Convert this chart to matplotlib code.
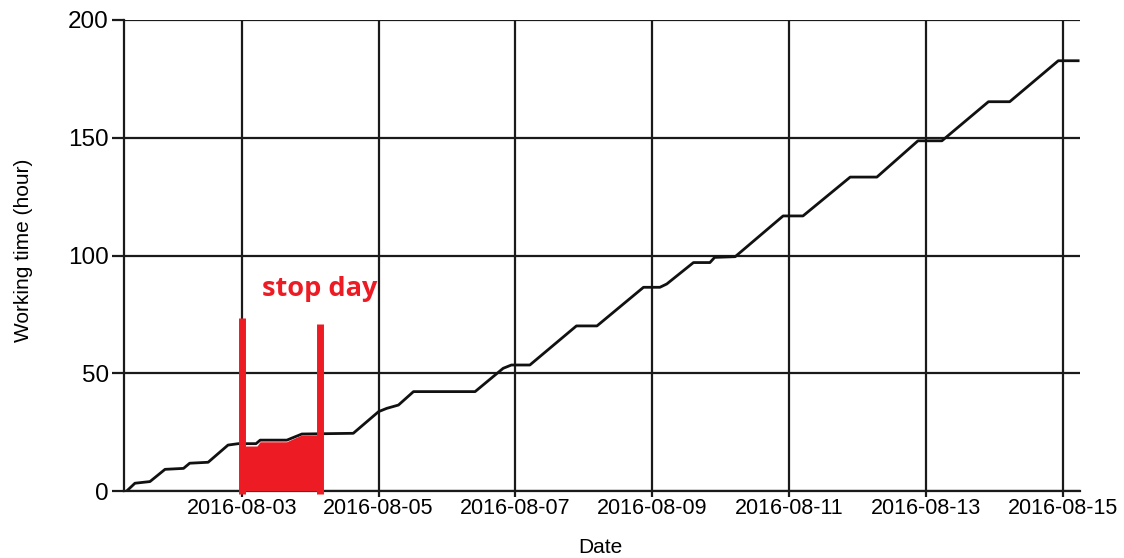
import numpy as np
import pandas as pd
import matplotlib
matplotlib.use("Agg")
import matplotlib.pyplot as plt
import matplotlib.dates as mdates

# cumulative working time
times = ["2016-08-01 07:41", "2016-08-01 10:34", "2016-08-01 15:50", "2016-08-01 21:07",
         "2016-08-02 03:36", "2016-08-02 05:46", "2016-08-02 12:14", "2016-08-02 19:12",
         "2016-08-02 22:48", "2016-08-03 05:02", "2016-08-03 06:29", "2016-08-03 15:50",
         "2016-08-03 21:07", "2016-08-04 15:07", "2016-08-05 00:00", "2016-08-05 02:53",
         "2016-08-05 06:58", "2016-08-05 12:14", "2016-08-06 09:50", "2016-08-06 19:41",
         "2016-08-06 22:34", "2016-08-07 05:02", "2016-08-07 21:22", "2016-08-08 04:34",
         "2016-08-08 20:53", "2016-08-09 02:38", "2016-08-09 05:02", "2016-08-09 14:24",
         "2016-08-09 20:10", "2016-08-09 21:50", "2016-08-10 05:02", "2016-08-10 21:50",
         "2016-08-11 04:48", "2016-08-11 21:22", "2016-08-12 06:43", "2016-08-12 21:07",
         "2016-08-13 05:31", "2016-08-13 21:50", "2016-08-14 05:17", "2016-08-14 22:19",
         "2016-08-15 05:17"]
hours = [0, 3.3, 4.0, 9.2,
         9.6, 11.8, 12.2, 19.5,
         20.1, 20.1, 21.6, 21.6,
         24.2, 24.5, 33.7, 35.1,
         36.5, 42.2, 42.2, 52.1,
         53.5, 53.5, 70.1, 70.1,
         86.5, 86.5, 87.9, 97.0,
         97.0, 99.2, 99.5, 116.8,
         116.8, 133.3, 133.3, 148.7,
         148.7, 165.3, 165.3, 182.7,
         182.7]

# red "stop day" marking
stop_times = ["2016-08-03 00:00", "2016-08-03 05:23", "2016-08-03 06:25", "2016-08-03 15:46",
              "2016-08-03 16:57", "2016-08-03 21:03", "2016-08-04 03:23"]
stop_top = [19.1, 19.1, 20.9, 20.9, 21.6, 23.8, 23.8]
bar_times = ["2016-08-03 00:00", "2016-08-04 03:23"]
bar_tops = [73.5, 71.0]

t = pd.to_datetime(times)
st = pd.to_datetime(stop_times)
bt = pd.to_datetime(bar_times)

red = "#ED1C24"
plt.rcParams["font.family"] = ["Liberation Sans", "DejaVu Sans"]

fig = plt.figure(figsize=(11.24, 5.58), dpi=100)
ax = fig.add_axes([124/1124, 67/558, 956/1124, 471/558])

ax.plot(t, hours, "-", color="#111111", lw=2.0, zorder=2)
ax.fill_between(st, 0, stop_top, color=red, lw=0, zorder=3)
ax.vlines(bt, -1.4, bar_tops, color=red, lw=5, zorder=4, clip_on=False)
ax.text(pd.Timestamp("2016-08-03 07:10"), 83, "stop day", color=red,
        fontsize=19.5, fontweight="bold", family="Open Sans", zorder=5)

ax.set_xlim(pd.Timestamp("2016-08-01 06:44"), pd.Timestamp("2016-08-15 05:56"))
ax.set_ylim(0, 200)
ax.set_yticks([0, 50, 100, 150, 200])
ax.xaxis.set_major_locator(mdates.DayLocator(bymonthday=[3, 5, 7, 9, 11, 13, 15]))
ax.xaxis.set_major_formatter(mdates.DateFormatter("%Y-%m-%d"))

ax.grid(True, color="#1a1a1a", lw=1.6)
ax.set_axisbelow(True)
for s in ["top", "right"]:
    ax.spines[s].set_visible(False)
for s in ["left", "bottom"]:
    ax.spines[s].set_color("#1a1a1a")
    ax.spines[s].set_linewidth(1.6)

ax.tick_params(axis="y", length=9, width=1.6, color="#1a1a1a", labelsize=17.5, pad=2)
ax.tick_params(axis="x", length=4, width=1.6, color="#1a1a1a", labelsize=15.5, pad=1)

ax.set_xlabel("Date", fontsize=15)
ax.set_ylabel("Working time (hour)", fontsize=15)
ax.xaxis.set_label_coords((600 - 124) / 956, -0.1)
ax.yaxis.set_label_coords(-0.095, (558 - 250 - 67) / 471)

fig.savefig("out.png", dpi=100)
